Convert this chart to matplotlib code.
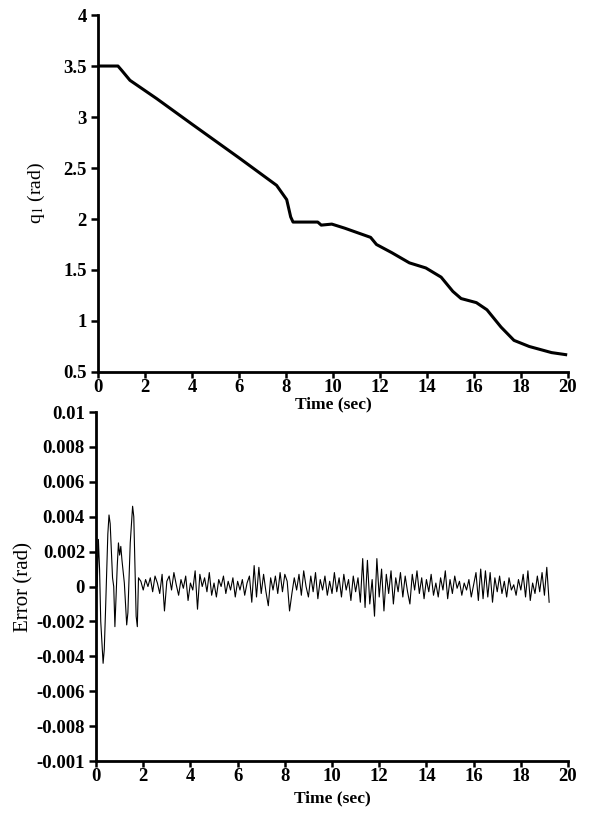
import numpy as np
import matplotlib
matplotlib.use("Agg")
import matplotlib.pyplot as plt

# joint angle q1 (rad)
q_t = [0.0, 0.85, 1.0, 1.36, 2.5, 4.0, 6.0, 7.6, 8.03, 8.1, 8.15, 8.2, 8.3,
       9.35, 9.5, 9.95, 10.5, 11.6, 11.85, 12.5, 13.25, 13.95, 14.6, 15.1,
       15.45, 16.1, 16.55, 17.15, 17.7, 18.35, 19.3, 19.9]
q_val = [3.5, 3.5, 3.46, 3.36, 3.18, 2.93, 2.6, 2.33, 2.19, 2.12, 2.07, 2.02, 1.97,
         1.97, 1.94, 1.95, 1.91, 1.82, 1.75, 1.67, 1.57, 1.52, 1.43, 1.29,
         1.22, 1.18, 1.11, 0.94, 0.81, 0.75, 0.69, 0.67]

# tracking error, units of 1e-4 rad: start-up transient then steady noise
trans_t = [0.0, 0.05, 0.1, 0.15, 0.2, 0.3, 0.35, 0.4, 0.5, 0.55, 0.6, 0.7, 0.75,
           0.8, 0.85, 0.9, 0.95, 1.0, 1.05, 1.1, 1.2, 1.3, 1.35, 1.45, 1.55,
           1.6, 1.7, 1.75, 1.8]
trans_val = [3, 0, 27, 10, -20, -44, -36, -15, 30, 41, 36, 5, 0,
             -23, -5, 12, 25, 18, 23, 15, 2, -22, -15, 25, 46,
             40, -17, -23, 5]
noise_val = [3, -2,
             4, 0, 5, -3, 6, 2, -4, 7, -14, 3,
             6, -2, 8, 1, -5, 4, -1, 6, -8, 2,
             -2, 9, -13, 7, 0, 5, -3, 8, -5, 2,
             -6, 4, 0, 6, -4, 3, -2, 5, -6, 3,
             -2, 4, -5, 2, 6, -9, 12, -6, 11, -4,
             7, -3, -11, 5, -2, 6, -4, 8, -3, 7,
             3, -14, -4, 5, -2, 7, -5, 9, 0, -6,
             6, -3, 8, -7, 4, -2, 6, -5, 3, -4,
             8, -3, 5, -6, 7, -2, 4, -8, 6, -3,
             5, -9, 16, -12, 15, -10, 4, -17, 16, -6,
             10, -14, 7, -4, 9, -10, 5, -3, 8, -6,
             6, -3, -10, 7, -2, 9, -4, 5, -7, 4,
             -3, 7, -5, 2, -6, 5, -2, 9, -7, 4,
             -4, 6, -1, 3, -5, 2, -2, 4, -6, 1,
             8, -8, 10, -7, 9, -6, 8, -9, 5, -3,
             6, -4, 3, -6, 5, -2, 1, -5, 4, -2,
             7, -6, 9, -8, 2, -4, 6, -3, 8, -5,
             11, -9]
noise_t = list(np.round(1.9 + 0.1 * np.arange(len(noise_val)), 2))

err_t = trans_t + noise_t
err_val = np.array(trans_val + noise_val) * 1e-4

x_ticks = list(range(0, 21, 2))
q_ticks = [0.5, 1, 1.5, 2, 2.5, 3, 3.5, 4]
q_labels = ["0.5", "1", "1.5", "2", "2.5", "3", "3.5", "4"]
e_ticks = [0.01, 0.008, 0.006, 0.004, 0.002, 0, -0.002, -0.004, -0.006, -0.008, -0.01]
e_labels = ["0.01", "0.008", "0.006", "0.004", "0.002", "0", "-0.002", "-0.004",
            "-0.006", "-0.008", "-0.001"]

plt.rcParams['font.family'] = ['Liberation Serif', 'DejaVu Serif']
plt.rcParams['mathtext.fontset'] = 'stix'

fig = plt.figure(figsize=(5.92, 8.17), dpi=100)
ax2 = fig.add_axes([0.1622, 0.0685, 0.7973, 0.4272])
ax1 = fig.add_axes([0.1655, 0.5447, 0.794, 0.4369])
ax1.patch.set_alpha(0)
ax2.patch.set_alpha(0)

ax1.plot(q_t, q_val, c='black', linewidth=2.2)
ax1.set_xlim(0, 20)
ax1.set_ylim(0.5, 4)
ax1.set_yticks(q_ticks)
ax1.set_yticklabels(q_labels)
ax1.set_ylabel(r'q$_1$ (rad)', size=14, labelpad=12)
ax1.set_xlabel('Time (sec)', size=12.5, fontweight='bold', labelpad=0)

ax2.plot(err_t, err_val, c='black', linewidth=0.8)
ax2.set_xlim(0, 20)
ax2.set_ylim(-0.01, 0.01)
ax2.set_yticks(e_ticks)
ax2.set_yticklabels(e_labels)
ax2.set_ylabel('Error (rad)', size=15, labelpad=2)
ax2.set_xlabel('Time (sec)', size=12.5, fontweight='bold', labelpad=4)

for ax in (ax1, ax2):
    ax.set_xticks(x_ticks)
    for s in ('top', 'right'):
        ax.spines[s].set_visible(False)
    for s in ('left', 'bottom'):
        ax.spines[s].set_linewidth(2)
    ax.tick_params(axis='both', which='major', labelsize=13.5, width=1.8, length=5, pad=3)
    ax.tick_params(axis='x', length=4, pad=1)
    for lab in ax.get_xticklabels() + ax.get_yticklabels():
        lab.set_fontweight('bold')

fig.savefig('out.png', dpi=100)
